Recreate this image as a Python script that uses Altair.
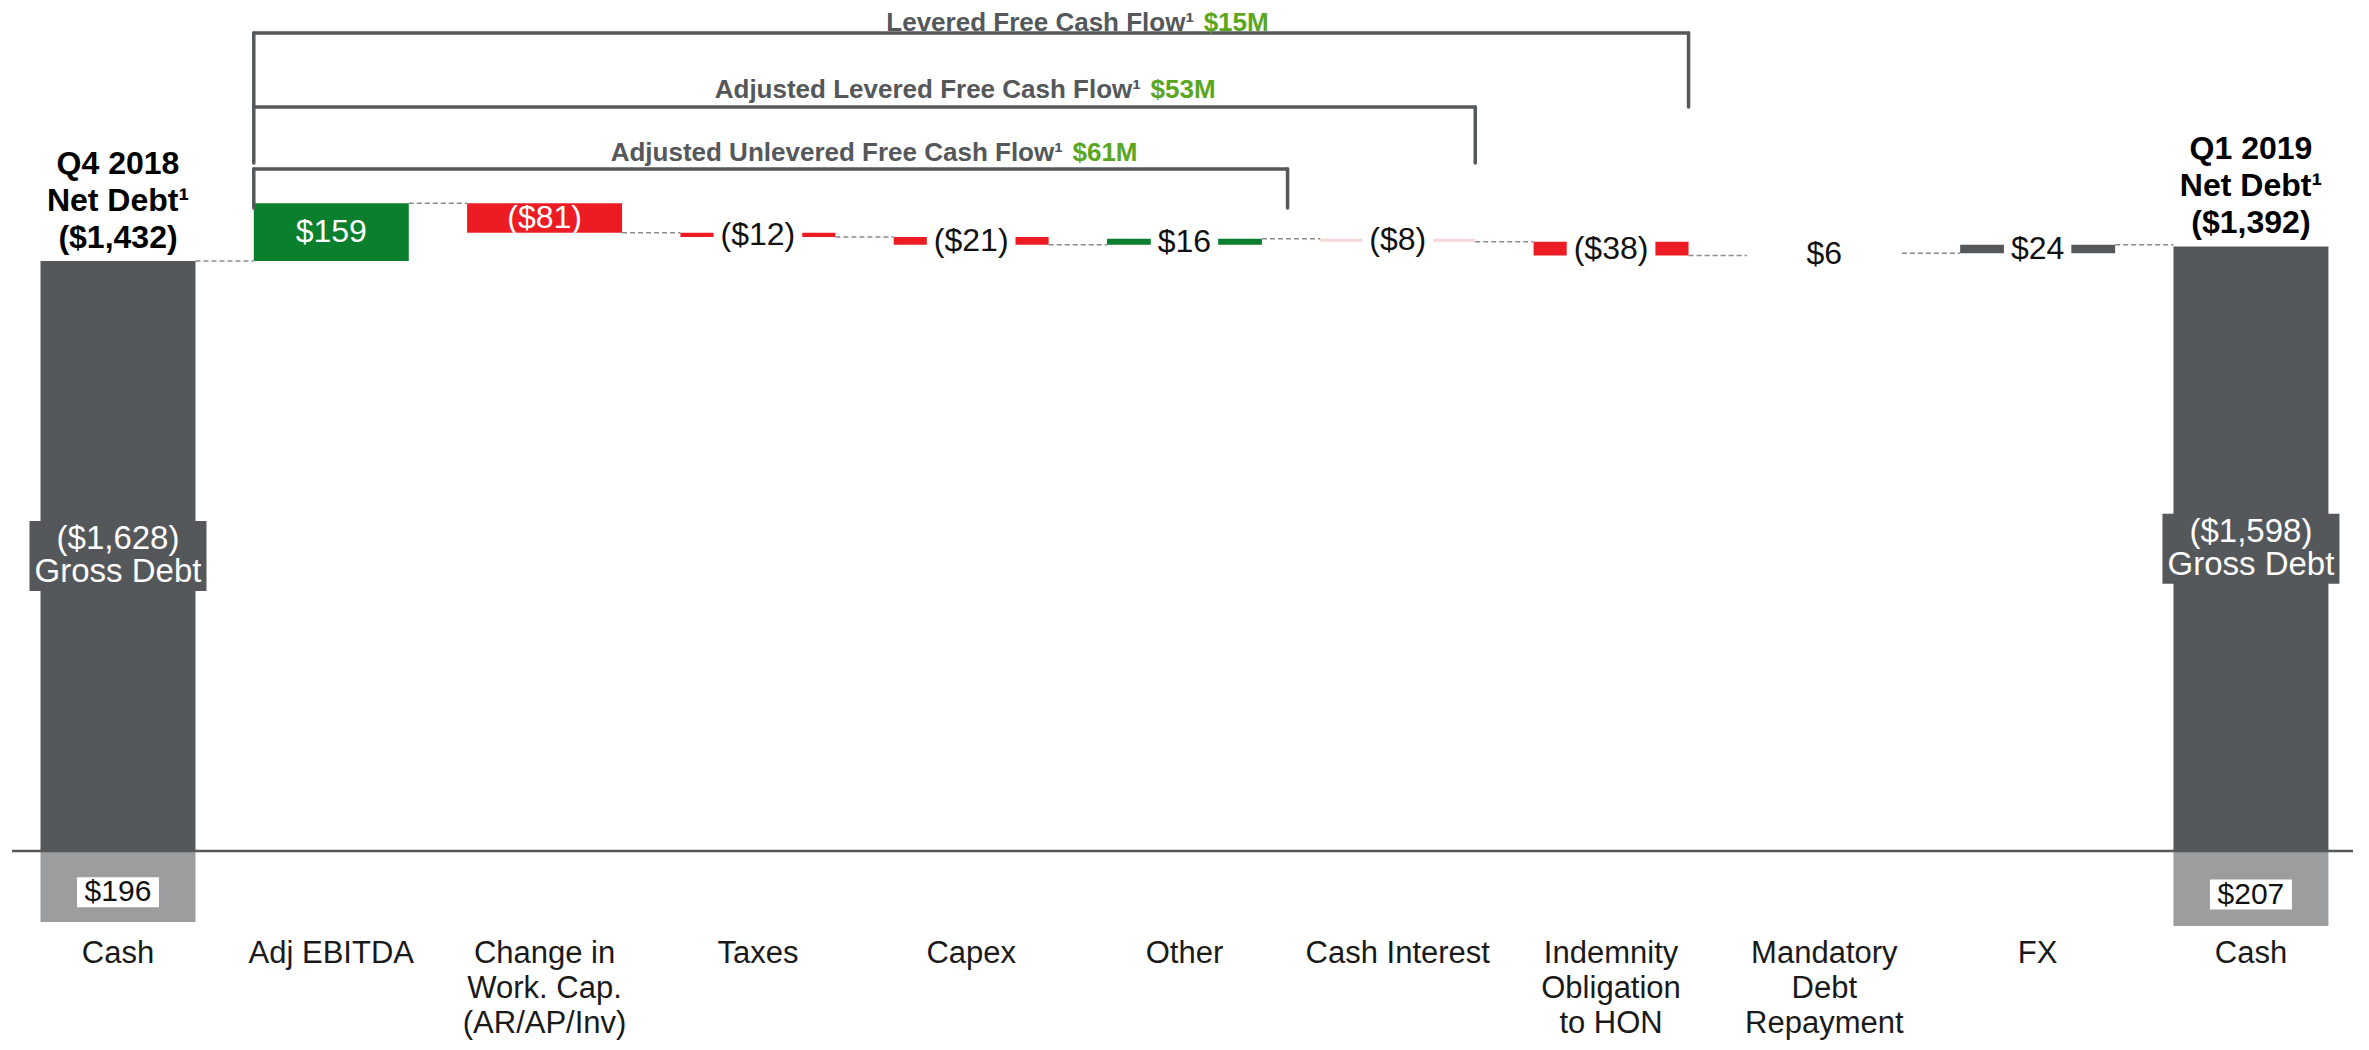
import altair as alt
import pandas as pd

# ---------------- data ----------------
categories = ["Cash", "Adj EBITDA", "Change in\nWork. Cap.\n(AR/AP/Inv)", "Taxes", "Capex", "Other",
              "Cash Interest", "Indemnity\nObligation\nto HON", "Mandatory\nDebt\nRepayment", "FX", "Cash"]
flow_values = [159, -81, -12, -21, 16, -8, -38, 6, 24]
flow_colors = ["#0a7f2e", "#ed1c24", "#ed1c24", "#ed1c24", "#0a7f2e", "#f9d5d8", "#ed1c24", "#ffffff", "#55585b"]
end_titles = ["Q4 2018\nNet Debt¹", "Q1 2019\nNet Debt¹"]
net_debt = [-1432, -1392]
gross_debt = [1628, 1598]
cash_balance = [196, 207]
bracket_names = ["Levered Free Cash Flow¹", "Adjusted Levered Free Cash Flow¹", "Adjusted Unlevered Free Cash Flow¹"]
bracket_amounts = ["$15M", "$53M", "$61M"]
bracket_last_cat = [7, 6, 5]

# ---------------- layout / style ----------------
DARK = "#55585b"
GREEN_TXT = "#5aa61e"
FONT = "Liberation Sans"
W, H = 2353, 1034
HW = 0.3633                       # half bar width in category units
xs = alt.Scale(domain=[-0.5157, 10.516], nice=False, zero=False)
ys = alt.Scale(domain=[-3587, -734], nice=False, zero=False)
BR_RIGHT_PAD = [0, 0, 0.12]
BR_TOP = [25, 99, 161]
BR_BOT = [99, 155, 200]
BR_ANCHOR = [5.045, 4.796, 4.43]
BR_TY = [15, 82, 145]
TITLE_LH = 37
GROSS_LH = 33


def money(v):
    return f"${v:,}" if v >= 0 else f"(${-v:,})"


def text_width(s, fs):
    w = {"(": .333, ")": .333, ",": .278}
    return sum(w.get(c, .556) for c in s) * fs


def X(f):
    return alt.X(f, type="quantitative", scale=xs, axis=None)


def Y(f):
    return alt.Y(f, type="quantitative", scale=ys, axis=None)


base_level = net_debt[0] - gross_debt[0]
end_idx = [0, len(categories) - 1]

end_df = pd.DataFrame({
    "i": end_idx,
    "x0": [i - HW for i in end_idx],
    "x1": [i + HW for i in end_idx],
    "level": net_debt,
    "base": [base_level] * 2,
    "cash_low": [base_level - c for c in cash_balance],
    "gmid": [(n + base_level) / 2 for n in net_debt],
    "cmid": [base_level - c * 0.58 for c in cash_balance],
    "top_label": [t + "\n" + money(n) for t, n in zip(end_titles, net_debt)],
    "gross_label": [money(-g) + "\nGross Debt" for g in gross_debt],
    "cash_label": [money(c) for c in cash_balance],
})

rows = []
level = net_debt[0]
for k, (v, c) in enumerate(zip(flow_values, flow_colors)):
    i = k + 1
    lab = money(v)
    inside = abs(v) >= 50
    rows.append(dict(i=i, x0=i - HW, x1=i + HW, start=level, end=level + v, mid=level + v / 2,
                     color=c, label=lab, tcolor="#ffffff" if inside else "#111111",
                     maskw=0 if inside else text_width(lab, 32) + 14))
    level += v
flow_df = pd.DataFrame(rows)

levels_after = [net_debt[0]] + [r["end"] for r in rows]
conn_df = pd.DataFrame([dict(x0=j + HW, x1=j + 1 - HW, y=lv) for j, lv in enumerate(levels_after)])

label_df = pd.DataFrame({"i": list(range(len(categories))), "label": categories})

layers = []

# cash (hatched) portion below baseline
layers.append(alt.Chart(end_df).mark_rect(color="#9c9d9f").encode(
    x=X("x0"), x2="x1", y=Y("base"), y2="cash_low"))
# dark net-debt bars
layers.append(alt.Chart(end_df).mark_rect(color=DARK).encode(
    x=X("x0"), x2="x1", y=Y("level"), y2="base"))
# baseline
layers.append(alt.Chart(end_df.head(1)).mark_rule(color=DARK, strokeWidth=2.5).encode(
    y=Y("base"), x=alt.value(4), x2=alt.value(W - 8)))
# flow bars
layers.append(alt.Chart(flow_df).mark_rect().encode(
    x=X("x0"), x2="x1", y=Y("start"), y2="end", color=alt.Color("color:N", scale=None)))
# connectors
layers.append(alt.Chart(conn_df).mark_rule(color="#8a8a8a", strokeWidth=1.5, strokeDash=[5, 3]).encode(
    x=X("x0"), x2="x1", y=Y("y")))
# white masks behind small labels
layers.append(alt.Chart(flow_df[flow_df.maskw > 0]).mark_tick(
    orient="horizontal", thickness=40, color="#ffffff", opacity=1, filled=True).encode(
    x=X("i"), y=Y("mid"), size=alt.Size("maskw:Q", scale=None)))
# value labels
layers.append(alt.Chart(flow_df).mark_text(font=FONT, fontSize=32, align="center", baseline="middle").encode(
    x=X("i"), y=Y("mid"), text="label:N", color=alt.Color("tcolor:N", scale=None)))
# gross debt boxes
layers.append(alt.Chart(end_df).mark_tick(orient="horizontal", thickness=70, size=177, color=DARK,
                                         opacity=1, filled=True).encode(x=X("i"), y=Y("gmid")))
layers.append(alt.Chart(end_df).mark_text(font=FONT, fontSize=33, color="#ffffff", align="center",
                                         baseline="middle", lineBreak="\n", lineHeight=GROSS_LH,
                                         dy=-GROSS_LH / 2).encode(
    x=X("i"), y=Y("gmid"), text="gross_label:N"))
# cash label boxes
layers.append(alt.Chart(end_df).mark_tick(orient="horizontal", thickness=30, size=82, color="#ffffff",
                                         opacity=1, filled=True).encode(x=X("i"), y=Y("cmid")))
layers.append(alt.Chart(end_df).mark_text(font=FONT, fontSize=30, color="#111111", align="center",
                                         baseline="middle").encode(
    x=X("i"), y=Y("cmid"), text="cash_label:N"))
# net debt titles above end bars (three lines stacked upward)
layers.append(alt.Chart(end_df).mark_text(font=FONT, fontSize=32, fontWeight="bold", color="#000000",
                                         align="center", baseline="bottom", lineBreak="\n",
                                         lineHeight=TITLE_LH, dy=-6 - 2 * TITLE_LH).encode(
    x=X("i"), y=Y("level"), text="top_label:N"))
# category labels
layers.append(alt.Chart(label_df).mark_text(font=FONT, fontSize=31, color="#1a1a1a", align="center",
                                           baseline="top", lineBreak="\n", lineHeight=35).encode(
    x=X("i"), y=alt.value(931), text="label:N"))

# brackets and their titles
for b in range(3):
    left = 1 - HW
    right = bracket_last_cat[b] + HW + BR_RIGHT_PAD[b]
    bd = pd.DataFrame({"l": [left], "r": [right], "a": [BR_ANCHOR[b]], "a2": [BR_ANCHOR[b] + 0.045],
                       "name": [bracket_names[b]], "amt": [bracket_amounts[b]]})
    rule = dict(color=DARK, strokeWidth=3.5, strokeCap="round")
    layers.append(alt.Chart(bd).mark_rule(**rule).encode(
        x=X("l"), x2="r", y=alt.value(BR_TOP[b])))
    layers.append(alt.Chart(bd).mark_rule(**rule).encode(
        x=X("l"), y=alt.value(BR_TOP[b]), y2=alt.value(BR_BOT[b])))
    layers.append(alt.Chart(bd).mark_rule(**rule).encode(
        x=X("r"), y=alt.value(BR_TOP[b]), y2=alt.value(BR_BOT[b])))
    layers.append(alt.Chart(bd).mark_text(font=FONT, fontSize=26, fontWeight="bold", color=DARK,
                                         align="right", baseline="middle").encode(
        x=X("a"), y=alt.value(BR_TY[b]), text="name:N"))
    layers.append(alt.Chart(bd).mark_text(font=FONT, fontSize=26, fontWeight="bold", color=GREEN_TXT,
                                         align="left", baseline="middle").encode(
        x=X("a2"), y=alt.value(BR_TY[b]), text="amt:N"))

chart = alt.layer(*layers).properties(
    width=W, height=H, padding=0,
    autosize=alt.AutoSizeParams(type="fit", contains="padding"),
    background="#ffffff",
).configure_view(stroke=None)

chart.save("out.html", embed_options={"renderer": "svg", "actions": False})
